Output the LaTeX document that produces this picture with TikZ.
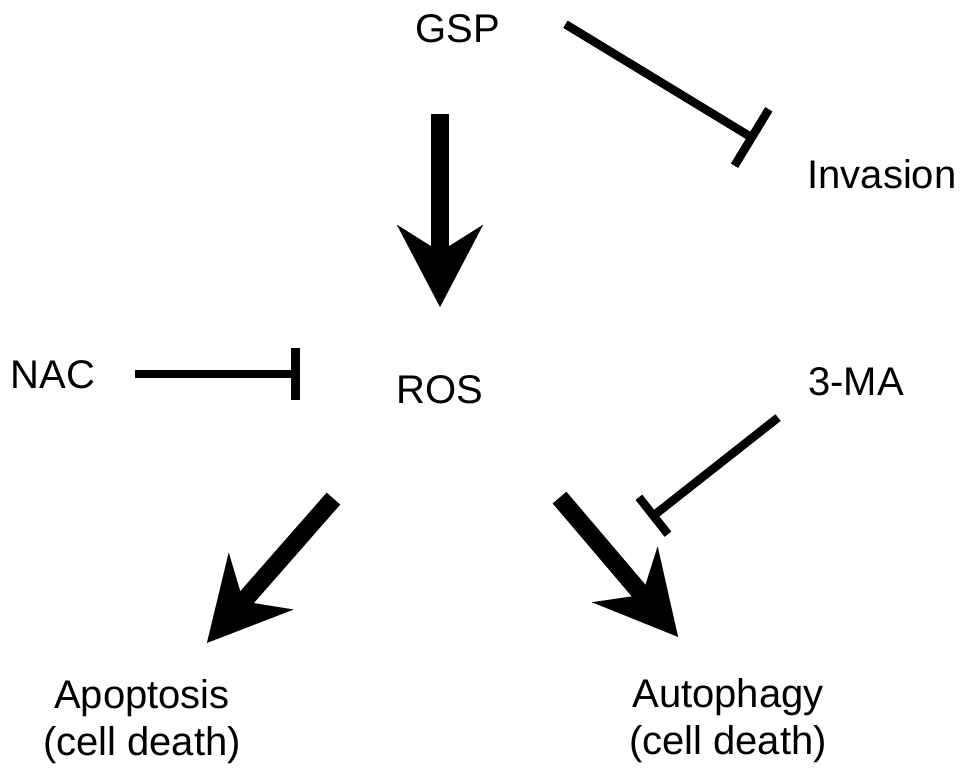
\documentclass[tikz,border=0pt]{standalone}
\usepackage{fontspec}
\setmainfont{Liberation Sans}
\usetikzlibrary{arrows.meta}
\tikzset{
  factor/.style={
  inner sep=0pt,
  anchor=base,
  align=center,
  font=\fontsize{40}{47}\selectfont
  },
promote/.style={
  line width=18pt,
  -{Stealth[length=82pt, width=86pt, inset=27pt, line width=0.01pt]}
},
inhibit/.style={
  line width=8.5pt,
  -{Bar[width=#1, line width=8.5pt]}
},
inhibit/.default=52pt
        }

\begin{document}
\begin{tikzpicture}[x=1pt, y=1pt]
\useasboundingbox (0,0) rectangle (969,-780);

% Nodes
\node (gsp) [factor] at (458,-42) {GSP};
\node (inv) [factor] at (882,-188) {Invasion};
\node (nac) [factor] at (53,-388) {NAC};
\node (ros) [factor] at (440,-403) {ROS};
\node (ma) [factor] at (856,-395) {3-MA};
\node (apop) [factor] at (142,-755) {Apoptosis\\(cell death)};
\node (auto) [factor] at (728,-754) {Autophagy\\(cell death)};

% Arrows
\draw [promote, shorten <=71pt, shorten >=68pt] (gsp.south -| ros.north) -- (ros.north);
\draw [promote] ([shift={(-63,-95)}]ros.south west) -- ([shift={(65,36)}]apop.north);
\draw [promote] ([shift={(76,-94)}]ros.south east) -- coordinate[pos=0.3] (autoarrow) ([shift={(-50,41)}]auto.north);

% Inhibitions
\draw [inhibit, shorten <=40pt, shorten >=96.5pt] (nac.east) -- (nac.east -| ros.west);
\draw [inhibit=66pt] ([shift={(65,4)}]gsp.east) -- ([shift={(-52,34)}]inv.west);
\draw [inhibit=47pt] ([shift={(-30,-22)}]ma.south west) -- ([shift={(55,21)}]autoarrow);

\end{tikzpicture}
\end{document}
